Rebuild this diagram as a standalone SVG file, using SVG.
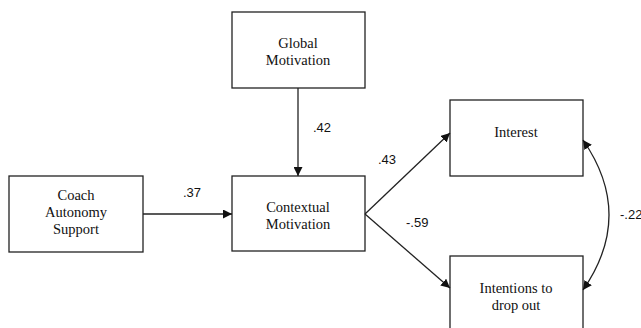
<svg xmlns="http://www.w3.org/2000/svg" width="641" height="328" viewBox="0 0 641 328">
<style>
.box{fill:#fff;stroke:#222;stroke-width:1.3}
.t{font-family:'Liberation Serif',serif;font-size:14.5px;fill:#111;text-anchor:middle}
.l{font-family:'Liberation Sans',sans-serif;font-size:13px;fill:#111}
.c{fill:none;stroke:#222;stroke-width:1.3}
</style>
<defs>
<marker id="ah" viewBox="0 0 10 10" refX="10" refY="5" markerWidth="9" markerHeight="9" markerUnits="userSpaceOnUse" orient="auto-start-reverse">
<path d="M0,0 L10,5 L0,10 z" fill="#111"/>
</marker>
</defs>
<rect width="641" height="328" fill="#fff"/>
<g id="coach"><rect class="box" x="9" y="176" width="134" height="76"/>
<text class="t" x="76" y="200">Coach</text><text class="t" x="76" y="217">Autonomy</text><text class="t" x="76" y="234">Support</text></g>
<g id="global"><rect class="box" x="232" y="12" width="133" height="76"/>
<text class="t" x="298" y="48">Global</text><text class="t" x="298" y="65">Motivation</text></g>
<g id="contextual"><rect class="box" x="232" y="176" width="133" height="75"/>
<text class="t" x="298" y="212">Contextual</text><text class="t" x="298" y="229">Motivation</text></g>
<g id="interest"><rect class="box" x="450" y="100" width="133" height="76"/>
<text class="t" x="516" y="137">Interest</text></g>
<g id="intentions"><rect class="box" x="450" y="256" width="133" height="78"/>
<text class="t" x="516" y="293">Intentions to</text><text class="t" x="516" y="310">drop out</text></g>
<g id="connectors">
<line class="c" x1="143" y1="214" x2="232" y2="214" marker-end="url(#ah)"/>
<line class="c" x1="298" y1="88" x2="298" y2="176" marker-end="url(#ah)"/>
<line class="c" x1="365" y1="214" x2="450" y2="133" marker-end="url(#ah)"/>
<line class="c" x1="365" y1="214" x2="450" y2="288" marker-end="url(#ah)"/>
<path class="c" d="M583,140 Q635,215 583,290" marker-start="url(#ah)" marker-end="url(#ah)"/>
<text class="l" x="183" y="197">.37</text>
<text class="l" x="313" y="132">.42</text>
<text class="l" x="378" y="164">.43</text>
<text class="l" x="406" y="227">-.59</text>
<text class="l" x="620" y="219">-.22</text>
</g>
</svg>
